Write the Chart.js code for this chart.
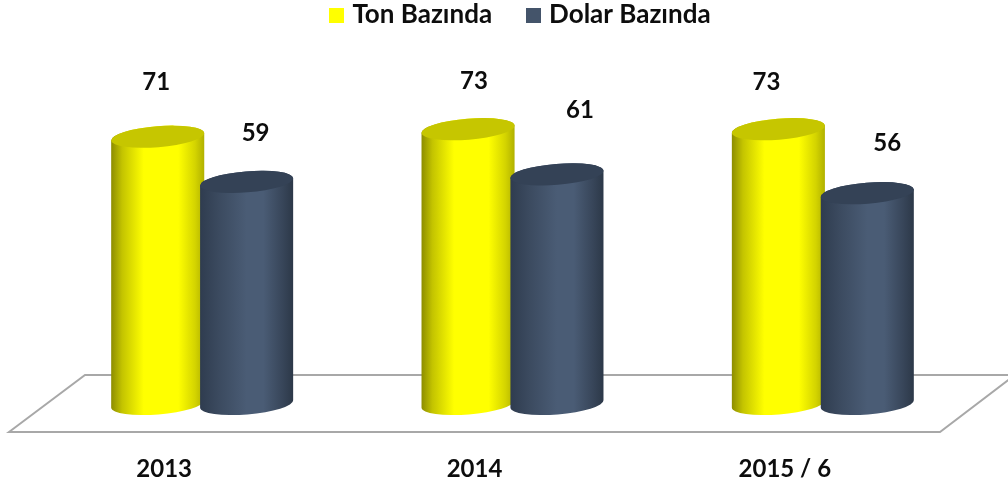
<!DOCTYPE html>
<html lang="tr">
<head>
<meta charset="utf-8">
<style>html,body{margin:0;padding:0;background:#fff}canvas{display:block}</style>
<script src="https://cdn.jsdelivr.net/npm/chart.js@4"></script>
</head>
<body>
<canvas id="c" width="1008" height="486"></canvas>
<script>
const categories = ['2013', '2014', '2015 / 6'];
const tonBazinda = [71, 73, 73];
const dolarBazinda = [59, 61, 56];

const FONT = 'Lato, "Noto Sans", sans-serif';
const styles = [
  { swatch: '#ffff00', top: '#c6c600', stops: [[0,'#8c8c00'],[0.12,'#c4c400'],[0.35,'#ffff00'],[0.72,'#ffff00'],[0.9,'#d4d400'],[1,'#b0b000']] },
  { swatch: '#44546a', top: '#344256', stops: [[0,'#2f3c4f'],[0.2,'#3b4a5f'],[0.5,'#4a5c75'],[0.68,'#4a5c75'],[0.88,'#38465a'],[1,'#2c3848']] }
];
const labelShift = [
  [[-1.5,-54],[6,-48],[-12,-47]],
  [[9,-49],[23,-64],[20,-50]]
];

function swatch(color) {
  const c = document.createElement('canvas');
  c.width = 15; c.height = 15;
  const x = c.getContext('2d');
  x.fillStyle = color;
  x.fillRect(0, 0, 15, 15);
  return c;
}

const scene = {
  id: 'scene',
  afterLayout(chart) {
    chart.legend.left += 10;
    chart.legend.right += 10;
    chart.legend.top -= 37;
    chart.legend.bottom -= 37;
  },
  beforeDatasetsDraw(chart) {
    const { ctx, chartArea: a, scales: { y } } = chart;
    const b = y.getPixelForValue(0);
    ctx.save();
    ctx.beginPath();
    ctx.moveTo(a.left - 38, b + 28);
    ctx.lineTo(a.left + 38, b - 29);
    ctx.lineTo(a.right + 37, b - 29);
    ctx.lineTo(a.right - 38, b + 28);
    ctx.closePath();
    ctx.fillStyle = '#ffffff';
    ctx.fill();
    ctx.strokeStyle = '#a8a8a8';
    ctx.lineWidth = 2;
    ctx.lineJoin = 'miter';
    ctx.stroke();
    ctx.restore();
    const rot = -0.08, ry = 10.5;
    chart.data.datasets.forEach((ds, i) => {
      const st = styles[i];
      chart.getDatasetMeta(i).data.forEach(bar => {
        const rx = bar.width / 2;
        const g = ctx.createLinearGradient(bar.x - rx, 0, bar.x + rx, 0);
        st.stops.forEach(s => g.addColorStop(s[0], s[1]));
        ctx.save();
        ctx.beginPath();
        ctx.ellipse(bar.x, bar.base, rx, ry, rot, 0, Math.PI);
        ctx.ellipse(bar.x, bar.y, rx, ry, rot, Math.PI, Math.PI * 2);
        ctx.closePath();
        ctx.fillStyle = g;
        ctx.fill();
        ctx.beginPath();
        ctx.ellipse(bar.x, bar.y, rx, ry, rot, 0, Math.PI * 2);
        ctx.fillStyle = st.top;
        ctx.fill();
        ctx.restore();
      });
    });
  },
  beforeDatasetDraw() {
    return false;
  },
  afterDatasetsDraw(chart) {
    const { ctx } = chart;
    ctx.save();
    ctx.font = 'bold 24px ' + FONT;
    ctx.fillStyle = '#0d0d0d';
    ctx.textAlign = 'center';
    ctx.textBaseline = 'middle';
    chart.data.datasets.forEach((ds, i) => {
      chart.getDatasetMeta(i).data.forEach((bar, j) => {
        const s = labelShift[i][j];
        ctx.fillText(String(ds.data[j]), bar.x + s[0], bar.y + s[1]);
      });
    });
    ctx.restore();
  }
};

new Chart(document.getElementById('c'), {
  type: 'bar',
  data: {
    labels: categories,
    datasets: [
      { label: 'Ton Bazında', data: tonBazinda, backgroundColor: styles[0].swatch, pointStyle: swatch(styles[0].swatch), categoryPercentage: 0.573, barPercentage: 1.05 },
      { label: 'Dolar Bazında', data: dolarBazinda, backgroundColor: styles[1].swatch, pointStyle: swatch(styles[1].swatch), categoryPercentage: 0.573, barPercentage: 1.05 }
    ]
  },
  options: {
    responsive: false,
    animation: false,
    layout: { padding: { left: 47, right: 30, top: 0, bottom: 0 } },
    plugins: {
      tooltip: { enabled: false },
      legend: {
        position: 'top',
        labels: {
          usePointStyle: true, boxWidth: 5, boxHeight: 15, padding: 39, color: '#0d0d0d',
          font: { family: FONT, size: 26, weight: 'bold' }
        }
      }
    },
    scales: {
      x: {
        grid: { display: false }, border: { display: false },
        afterFit(scale) { scale.height = 82; },
        ticks: { color: '#0d0d0d', padding: 43, labelOffset: -38, maxRotation: 0, font: { family: FONT, size: 24, weight: 'bold' } }
      },
      y: { display: false, min: 0, max: 87.4 }
    }
  },
  plugins: [scene]
});
</script>
</body>
</html>
